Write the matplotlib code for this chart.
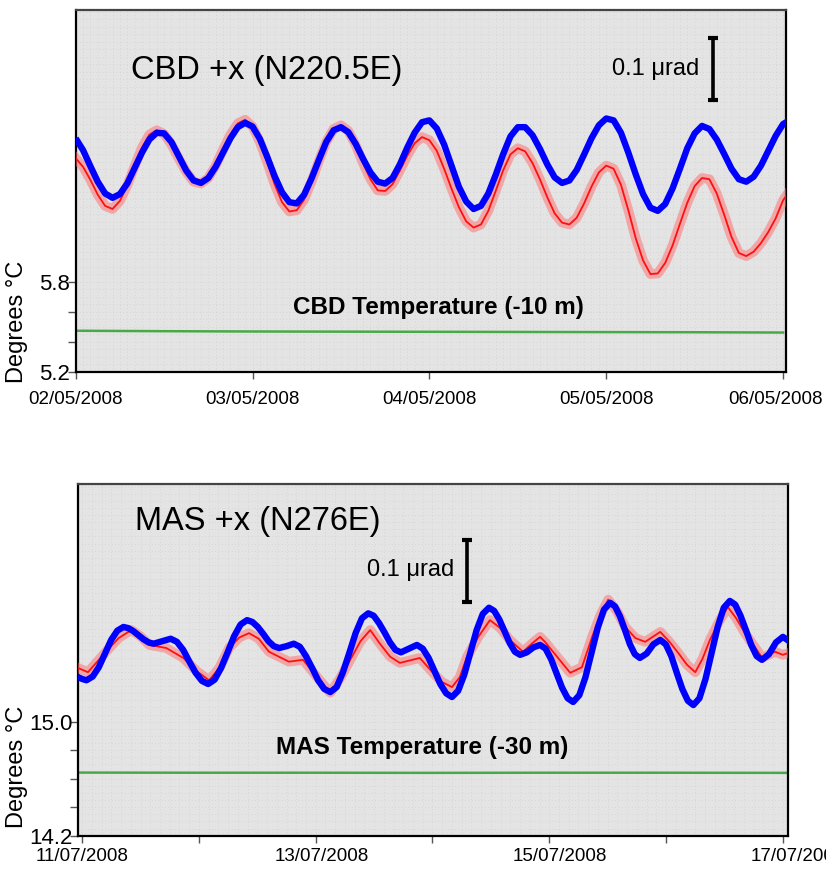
import numpy as np
import pandas as pd
import matplotlib
matplotlib.use('Agg')
import matplotlib.pyplot as plt
from matplotlib.ticker import MultipleLocator
from matplotlib.transforms import ScaledTranslation

plt.rcParams['font.family'] = ['Liberation Sans', 'DejaVu Sans']

# --- CBD, 02/05/2008 - 06/05/2008 (hours since 02/05 00:00) ---
cbd_hours = np.arange(98)
# tilt in nrad (arbitrary offset), model tide (blue) and observed (red)
cbd_model = [35, 16, -10, -35, -54, -61, -55, -38, -13, 12,
             33, 44, 43, 29, 6, -17, -33, -37, -29, -11,
             12, 35, 53, 60, 54, 34, 5, -26, -52, -68,
             -70, -56, -30, 0, 29, 48, 53, 45, 26, 2,
             -20, -35, -38, -29, -7, 20, 44, 61, 64, 51,
             25, -9, -43, -67, -79, -74, -54, -24, 9, 38,
             53, 53, 40, 18, -7, -28, -37, -33, -16, 9,
             35, 56, 67, 64, 44, 12, -23, -55, -77, -82,
             -71, -46, -14, 19, 43, 55, 50, 33, 10, -14,
             -31, -35, -27, -9, 15, 39, 58, 65]
cbd_observed = [3, -11, -32, -56, -74, -79, -66, -41, -10, 20,
                41, 48, 42, 25, 2, -19, -35, -38, -29, -9,
                17, 41, 59, 65, 54, 29, -4, -39, -68, -83,
                -81, -64, -35, -2, 29, 50, 56, 47, 24, -5,
                -31, -49, -50, -39, -17, 7, 27, 37, 32, 15,
                -14, -46, -76, -99, -109, -104, -82, -50, -17, 9,
                19, 14, -5, -31, -60, -86, -101, -104, -93, -70,
                -43, -20, -9, -14, -40, -81, -126, -162, -184, -183,
                -166, -138, -103, -69, -42, -29, -31, -54, -88, -124,
                -150, -155, -148, -134, -116, -94, -65, -48]
cbd_temp_hours = [0, 12, 24, 36, 48, 60, 72, 84, 96]
cbd_temp = [5.475, 5.472, 5.470, 5.469, 5.468, 5.467, 5.466, 5.465, 5.463]
cbd_dates = ['02/05/2008', '03/05/2008', '04/05/2008', '05/05/2008', '06/05/2008']

# --- MAS, 11/07/2008 - 17/07/2008 (hours since 11/07 00:00) ---
mas_model_hours = [-1.0, -0.8, 0.05, 0.9, 2.17, 3.43, 4.7, 5.97, 7.23, 8.5,
                   9.53, 10.57, 11.6, 12.63, 13.67, 14.7, 16.45, 18.2, 19.48, 20.77,
                   22.05, 23.33, 24.62, 25.9, 27.23, 28.57, 29.9, 31.23, 32.57, 33.9,
                   35.0, 36.1, 37.2, 38.3, 39.4, 40.5, 42.0, 43.5, 44.75, 46.0,
                   47.25, 48.5, 49.75, 51.0, 52.3, 53.6, 54.9, 56.2, 57.5, 58.8,
                   59.92, 61.03, 62.15, 63.27, 64.38, 65.5, 67.15, 68.8, 70.0, 71.2,
                   72.4, 73.6, 74.8, 76.0, 77.27, 78.53, 79.8, 81.07, 82.33, 83.6,
                   84.67, 85.73, 86.8, 87.87, 88.93, 90.0, 91.37, 92.73, 94.1, 95.23,
                   96.37, 97.5, 98.63, 99.77, 100.9, 102.17, 103.43, 104.7, 105.97, 107.23,
                   108.5, 109.52, 110.53, 111.55, 112.57, 113.58, 114.6, 116.0, 117.4, 118.8,
                   119.93, 121.07, 122.2, 123.33, 124.47, 125.6, 126.85, 128.1, 129.35, 130.6,
                   131.85, 133.1, 134.2, 135.3, 136.4, 137.5, 138.6, 139.7, 141.13, 142.57,
                   144.0, 145.5]
mas_model = [-59, -60, -63, -65, -59, -44, -22, 0, 15, 21,
             19, 14, 7.5, 1, -4, -6, -2, 2, -3, -16,
             -35, -53, -66, -71, -64, -45, -20, 6, 25, 32,
             29, 21, 10, -2, -10, -13, -10, -6, -11, -26,
             -45, -65, -79, -84, -76, -52, -21, 11, 35, 43,
             39, 27, 12, -4, -16, -20, -14, -8, -14, -29,
             -50, -71, -86, -92, -82, -56, -20, 16, 42, 52,
             47, 33, 14, -5, -19, -24, -20, -12, -8, -14,
             -31, -54, -77, -94, -100, -89, -60, -20, 20, 49,
             60, 54, 38, 16, -7, -23, -29, -22, -7, 0,
             -7, -26, -53, -79, -98, -105, -94, -63, -21, 21,
             52, 63, 57, 39, 16, -8, -26, -32, -23, -4,
             5, -3]
mas_obs_hours = [-1.2, 1.2, 4.9, 7.5, 10.1, 12.0, 13.8, 17.3, 20.8, 23.5,
                 26.1, 28.2, 30.2, 32.3, 34.3, 36.3, 38.4, 42.5, 45.4, 48.1,
                 51.0, 53.0, 55.1, 57.2, 59.2, 61.2, 63.3, 65.3, 69.4, 72.1,
                 74.0, 76.0, 77.6, 79.1, 81.5, 83.8, 85.8, 87.9, 90.6, 92.4,
                 94.1, 95.1, 97.8, 100.3, 102.7, 104.8, 106.5, 108.1, 110.0, 111.6,
                 113.7, 115.7, 118.8, 120.7, 122.5, 124.3, 126.0, 127.5, 129.0, 130.9,
                 132.7, 134.4, 136.2, 138.9, 139.7, 142.4, 144.0, 145.5]
mas_observed = [-44, -52, -19, 3, 16, 6, -8, -13, -29, -50,
                -65, -45, -13, 4, 11, 2, -19, -35, -32, -58,
                -85, -62, -32, -2, 16, -6, -27, -37, -29, -53,
                -68, -76, -60, -27, 6, 32, 20, 0, -19, -6,
                5, -3, -29, -53, -44, 5, 40, 65, 45, 21,
                3, -3, 13, -3, -21, -40, -52, -30, 0, 30,
                53, 35, 11, -19, -29, -19, -24, -20]
mas_temp_hours = [-1, 23, 47, 71, 95, 119, 145.5]
mas_temp = [14.643, 14.642, 14.642, 14.641, 14.642, 14.642, 14.641]
mas_dates = ['11/07/2008', '', '13/07/2008', '', '15/07/2008', '', '17/07/2008']


def to_time(start, hours):
    return pd.Timestamp(start) + pd.to_timedelta(np.asarray(hours, dtype=float), unit='h')


def draw_panel(fig, rect, start, xlim_h, tick_every, dates, label_shift,
               temp_lim, temp_ticks, temp_labels, tilt_lim,
               model_t, model, obs_t, obs, temp_t, temp,
               title, title_xy, temp_label, temp_xy, bar_h, bar_mid, bar_text_xy,
               grid_step):
    ax = fig.add_axes(rect)
    ax.set_facecolor('#e4e4e4')
    ax.set_axisbelow(True)

    ax.plot(to_time(start, temp_t), temp, color='#2ca02c', lw=1.8, alpha=0.85)

    ax.set_xlim(to_time(start, xlim_h[0]), to_time(start, xlim_h[1]))
    ax.set_ylim(*temp_lim)
    ax.set_yticks(temp_ticks)
    ax.set_yticklabels(temp_labels)
    ax.yaxis.set_minor_locator(MultipleLocator(0.05))

    ticks = to_time(start, np.arange(len(dates)) * tick_every)
    ax.set_xticks(ticks)
    ax.set_xticklabels(dates)
    minor = to_time(start, np.arange(xlim_h[0] // grid_step, xlim_h[1] // grid_step + 1) * grid_step)
    ax.set_xticks(minor, minor=True)

    # faint dotted background grid
    ax.grid(which='both', color='#d2d2d2', linestyle=(0, (1, 3)), linewidth=0.6)
    ax.tick_params(which='minor', length=0)
    ax.tick_params(axis='y', which='major', labelsize=16, length=6, pad=-2,
                   color='#555555', width=1)
    ax.tick_params(axis='x', which='major', labelsize=13.5, length=5, pad=label_shift[0],
                   color='#555555', width=1)
    for lab, dx in zip(ax.get_xticklabels(), label_shift[1]):
        lab.set_transform(lab.get_transform()
                          + ScaledTranslation(dx * 0.72 / 72, 0, fig.dpi_scale_trans))
    for s in ax.spines.values():
        s.set_linewidth(1.6)
        s.set_color('black')
    ax.spines['top'].set_color('#444444')

    ax.text(*title_xy, title, transform=ax.transAxes, ha='center', va='center',
            fontsize=23.5)
    ax.text(*temp_xy, temp_label, transform=ax.transAxes, ha='center', va='center',
            fontsize=17.5, fontweight='bold')
    ax.text(*bar_text_xy, '0.1 \u03bcrad', transform=ax.transAxes, ha='center',
            va='center', fontsize=17)

    ax2 = ax.twinx()
    ax2.set_ylim(*tilt_lim)
    ax2.set_axis_off()
    ax2.plot(to_time(start, obs_t), obs, color='#ff6b6b', lw=7, alpha=0.5,
             solid_joinstyle='round')
    ax2.plot(to_time(start, obs_t), obs, color='#ff1010', lw=1.3)
    ax2.plot(to_time(start, model_t), model, color='#0000ff', lw=4.6,
             solid_capstyle='butt')
    ax2.errorbar(to_time(start, [bar_h]), [bar_mid], yerr=50, fmt='none',
                 ecolor='black', elinewidth=2.6, capsize=3.8, capthick=3)
    ax2.set_xlim(to_time(start, xlim_h[0]), to_time(start, xlim_h[1]))
    return ax


fig = plt.figure(figsize=(8.26, 8.72), dpi=100)

draw_panel(fig, [0.0916, 0.5734, 0.8600, 0.4151], '2008-05-02', (0.0, 96.4), 24,
           cbd_dates, (9, [0, 0, 0, 0, -8]),
           (5.2, 7.613), [5.2, 5.4, 5.6, 5.8], ['5.2', '', '', '5.8'], (-342, 242),
           cbd_hours, cbd_model, cbd_hours, cbd_observed, cbd_temp_hours, cbd_temp,
           'CBD +x (N220.5E)', (0.2693, 0.834),
           'CBD Temperature (-10 m)', (0.510, 0.177),
           86.5, 146.8, (0.817, 0.837), 1)

draw_panel(fig, [0.0941, 0.0416, 0.8596, 0.4034], '2008-07-11', (-0.9, 145.0), 24,
           mas_dates, (4, [0, 0, 6, 0, 11, 0, 15]),
           (14.2, 16.668), [14.2, 14.4, 14.6, 14.8, 15.0], ['14.2', '', '', '', '15.0'],
           (-315.7, 251.6),
           mas_model_hours, mas_model, mas_obs_hours, mas_observed, mas_temp_hours, mas_temp,
           'MAS +x (N276E)', (0.2532, 0.893),
           'MAS Temperature (-30 m)', (0.485, 0.2494),
           79.1, 111.3, (0.4687, 0.7555), 2)

fig.text(17 / 826, 1 - 321.5 / 872, 'Degrees \u00b0C', rotation=90, ha='center',
         va='center', fontsize=17)
fig.text(17 / 826, 1 - 766.5 / 872, 'Degrees \u00b0C', rotation=90, ha='center',
         va='center', fontsize=17)

fig.savefig('out.png', dpi=100)
